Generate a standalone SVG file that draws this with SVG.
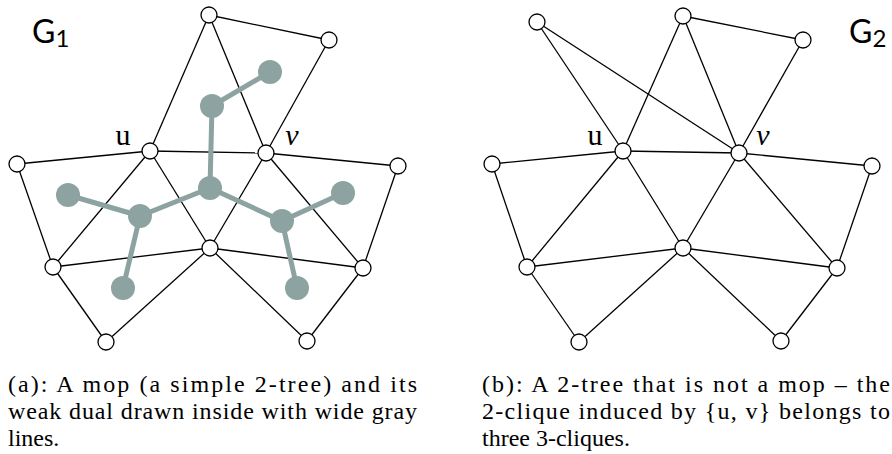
<svg xmlns="http://www.w3.org/2000/svg" width="892" height="454" viewBox="0 0 892 454">
<style>
.e{stroke:#000;stroke-width:1.3;fill:none}
.d{stroke:#8ca3a1;stroke-width:5;fill:none}
.n{fill:#fff;stroke:#000;stroke-width:1.3}
.g{fill:#8ca3a1}
.lbl{font-family:"Liberation Serif",serif;font-size:30px;fill:#000}
.G{font-family:Lato,"DejaVu Sans",sans-serif;fill:#000}
.cap{font-family:"Liberation Serif",serif;font-size:24px;fill:#000}
</style>
<rect width="892" height="454" fill="#fff"/>
<g id="connectors">
<g id="g1-edges" class="e">
<line x1="209" y1="15" x2="329" y2="40"/>
<line x1="209" y1="15" x2="150" y2="151"/>
<line x1="209" y1="15" x2="266" y2="153"/>
<line x1="329" y1="40" x2="266" y2="153"/>
<line x1="150" y1="151" x2="266" y2="153"/>
<line x1="150" y1="151" x2="17" y2="164"/>
<line x1="17" y1="164" x2="53" y2="267"/>
<line x1="150" y1="151" x2="53" y2="267"/>
<line x1="150" y1="151" x2="210" y2="248"/>
<line x1="266" y1="153" x2="210" y2="248"/>
<line x1="266" y1="153" x2="398" y2="166"/>
<line x1="398" y1="166" x2="363" y2="268"/>
<line x1="266" y1="153" x2="363" y2="268"/>
<line x1="53" y1="267" x2="210" y2="248"/>
<line x1="210" y1="248" x2="363" y2="268"/>
<line x1="53" y1="267" x2="106" y2="342"/>
<line x1="106" y1="342" x2="210" y2="248"/>
<line x1="210" y1="248" x2="307" y2="341"/>
<line x1="307" y1="341" x2="363" y2="268"/>
</g>
<g id="g1-dual-edges" class="d">
<line x1="270" y1="72" x2="212" y2="106"/>
<line x1="212" y1="106" x2="210" y2="188"/>
<line x1="210" y1="188" x2="140" y2="216"/>
<line x1="210" y1="188" x2="282" y2="221"/>
<line x1="140" y1="216" x2="68" y2="195"/>
<line x1="140" y1="216" x2="123" y2="288"/>
<line x1="282" y1="221" x2="343" y2="193"/>
<line x1="282" y1="221" x2="297" y2="288"/>
</g>
<g id="g2-edges" class="e">
<line x1="537" y1="22" x2="623" y2="151"/>
<line x1="537" y1="22" x2="739" y2="153"/>
<line x1="683" y1="16" x2="803" y2="40"/>
<line x1="683" y1="16" x2="623" y2="151"/>
<line x1="683" y1="16" x2="739" y2="153"/>
<line x1="803" y1="40" x2="739" y2="153"/>
<line x1="623" y1="151" x2="739" y2="153"/>
<line x1="623" y1="151" x2="492" y2="164"/>
<line x1="492" y1="164" x2="527" y2="267"/>
<line x1="623" y1="151" x2="527" y2="267"/>
<line x1="623" y1="151" x2="683" y2="248"/>
<line x1="739" y1="153" x2="683" y2="248"/>
<line x1="739" y1="153" x2="872" y2="166"/>
<line x1="872" y1="166" x2="837" y2="268"/>
<line x1="739" y1="153" x2="837" y2="268"/>
<line x1="527" y1="267" x2="683" y2="248"/>
<line x1="683" y1="248" x2="837" y2="268"/>
<line x1="527" y1="267" x2="579" y2="342"/>
<line x1="579" y1="342" x2="683" y2="248"/>
<line x1="683" y1="248" x2="781" y2="341"/>
<line x1="781" y1="341" x2="837" y2="268"/>
</g>
</g>
<g id="g1-dual-nodes" class="g">
<circle id="d1" cx="270" cy="72" r="12"/>
<circle id="d2" cx="212" cy="106" r="12"/>
<circle id="d3" cx="210" cy="188" r="12"/>
<circle id="d4" cx="68" cy="195" r="12"/>
<circle id="d5" cx="140" cy="216" r="12"/>
<circle id="d6" cx="282" cy="221" r="12"/>
<circle id="d7" cx="343" cy="193" r="12"/>
<circle id="d8" cx="123" cy="288" r="12"/>
<circle id="d9" cx="297" cy="288" r="12"/>
</g>
<g id="g1-nodes" class="n">
<g id="a-t"><circle cx="209" cy="15" r="8"/></g>
<g id="a-tr"><circle cx="329" cy="40" r="8"/></g>
<g id="a-u"><circle cx="150" cy="151" r="8"/></g>
<g id="a-v"><circle cx="266" cy="153" r="8"/></g>
<g id="a-l"><circle cx="17" cy="164" r="8"/></g>
<g id="a-r"><circle cx="398" cy="166" r="8"/></g>
<g id="a-bc"><circle cx="210" cy="248" r="8"/></g>
<g id="a-blm"><circle cx="53" cy="267" r="8"/></g>
<g id="a-brm"><circle cx="363" cy="268" r="8"/></g>
<g id="a-bbl"><circle cx="106" cy="342" r="8"/></g>
<g id="a-bbr"><circle cx="307" cy="341" r="8"/></g>
</g>
<g id="g2-nodes" class="n">
<g id="b-tl"><circle cx="537" cy="22" r="8"/></g>
<g id="b-t"><circle cx="683" cy="16" r="8"/></g>
<g id="b-tr"><circle cx="803" cy="40" r="8"/></g>
<g id="b-u"><circle cx="623" cy="151" r="8"/></g>
<g id="b-v"><circle cx="739" cy="153" r="8"/></g>
<g id="b-l"><circle cx="492" cy="164" r="8"/></g>
<g id="b-r"><circle cx="872" cy="166" r="8"/></g>
<g id="b-bc"><circle cx="683" cy="248" r="8"/></g>
<g id="b-blm"><circle cx="527" cy="267" r="8"/></g>
<g id="b-brm"><circle cx="837" cy="268" r="8"/></g>
<g id="b-bbl"><circle cx="579" cy="342" r="8"/></g>
<g id="b-bbr"><circle cx="781" cy="341" r="8"/></g>
</g>
<g id="labels">
<text class="lbl" x="123" y="145" text-anchor="middle">u</text>
<text class="lbl" x="292" y="145" text-anchor="middle" font-style="italic">v</text>
<text class="lbl" x="595" y="145" text-anchor="middle">u</text>
<text class="lbl" x="763" y="145" text-anchor="middle" font-style="italic">v</text>
<text class="G" x="32" y="43" font-size="32">G<tspan font-size="24" dy="4">1</tspan></text>
<text class="G" x="849" y="43" font-size="32">G<tspan font-size="24" dy="4">2</tspan></text>
</g>
<g id="captions" class="cap">
<text x="8" y="392" textLength="409" lengthAdjust="spacing">(a): A mop (a simple 2-tree) and its</text>
<text x="8" y="419" textLength="409" lengthAdjust="spacing">weak dual drawn inside with wide gray</text>
<text x="8" y="446">lines.</text>
<text x="482" y="392" textLength="408" lengthAdjust="spacing">(b): A 2-tree that is not a mop – the</text>
<text x="482" y="419" textLength="408" lengthAdjust="spacing">2-clique induced by {u, v} belongs to</text>
<text x="482" y="446">three 3-cliques.</text>
</g>
</svg>
